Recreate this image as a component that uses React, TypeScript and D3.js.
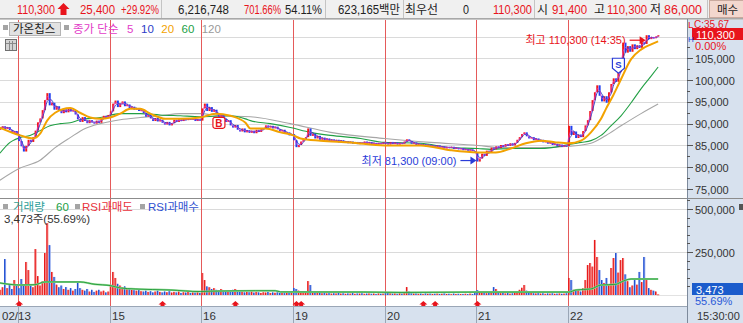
import React from "react";
import * as d3 from "d3";

// ---- data (prices in thousand won, volumes in thousand shares, 10-minute bars) ----
const firstOpen = 88.6;
const close0213 = [89.0, 89.4, 88.8, 89.2, 88.5, 87.9, 88.3, 87.6];
const close0214 = [86.0, 84.8, 83.6, 84.9, 86.3, 85.8, 86.9, 88.4, 90.3, 91.2, 93.1, 95.4, 97.0, 94.2, 94.8, 93.2, 94.0, 93.1, 92.4, 93.3, 92.6, 93.5, 92.8, 93.0, 92.1, 91.0, 90.4, 91.5, 90.6, 90.1, 90.8, 90.3, 90.0, 90.7, 90.2, 91.2, 91.8, 91.3, 92.0];
const close0215 = [92.8, 94.6, 95.3, 93.8, 94.6, 95.1, 94.0, 94.4, 93.6, 93.9, 93.2, 93.6, 92.9, 93.1, 92.4, 91.6, 92.0, 91.2, 90.6, 91.3, 90.5, 90.9, 90.2, 89.8, 90.4, 89.6, 90.1, 90.9, 90.4, 91.0, 90.6, 91.1, 90.8, 91.3, 90.9, 91.2, 90.6, 91.0, 90.7];
const close0216 = [93.5, 94.6, 92.9, 93.8, 92.7, 93.2, 92.2, 91.6, 92.0, 91.1, 90.4, 90.8, 89.6, 89.1, 89.7, 88.6, 88.2, 88.9, 88.0, 88.5, 87.9, 88.4, 87.8, 88.6, 88.1, 88.7, 89.0, 89.6, 89.1, 89.5, 88.9, 89.3, 88.7, 88.2, 88.6, 87.7, 88.0, 87.3, 87.6];
const close0219 = [86.2, 84.6, 85.1, 85.9, 86.4, 86.9, 88.9, 87.2, 87.7, 86.6, 87.2, 86.3, 86.8, 86.1, 86.6, 85.9, 86.4, 85.8, 86.3, 85.7, 86.2, 85.6, 86.0, 85.5, 85.9, 85.4, 85.8, 85.3, 85.7, 85.5, 85.9, 85.4, 85.8, 85.3, 85.6, 85.2, 85.6, 85.3, 85.7];
const close0220 = [85.6, 85.2, 85.8, 85.3, 85.7, 85.2, 85.6, 85.4, 85.9, 86.4, 86.0, 85.4, 85.7, 85.1, 85.4, 84.9, 85.3, 84.8, 85.2, 84.7, 85.0, 84.6, 85.0, 84.5, 84.8, 84.3, 84.7, 84.4, 84.7, 84.2, 84.5, 84.1, 84.4, 83.9, 84.2, 83.8, 84.1, 83.7, 83.4];
const close0221 = [81.3, 82.0, 83.1, 82.6, 83.8, 83.3, 84.5, 84.1, 84.8, 84.4, 85.1, 84.7, 85.3, 84.9, 85.5, 85.0, 85.6, 86.3, 86.9, 87.6, 88.0, 87.1, 86.6, 86.9, 86.2, 86.6, 85.9, 86.3, 85.7, 86.0, 85.4, 85.7, 85.1, 85.4, 84.8, 85.2, 84.7, 85.0, 84.9];
const close0222 = [89.5, 87.4, 88.2, 86.7, 87.5, 86.9, 88.3, 89.6, 90.8, 92.9, 95.4, 97.2, 98.8, 96.4, 95.1, 96.3, 94.8, 97.2, 99.1, 100.4, 99.6, 101.8, 104.5, 108.6, 106.3, 107.8, 106.5, 108.2, 107.1, 108.0, 107.4, 108.7, 108.3, 110.3, 109.4, 109.9, 109.6, 110.0, 110.3];

const vol0213 = [30, 45, 209, 40, 60, 35, 87, 55];
const vol0214 = [40, 93, 55, 192, 145, 60, 45, 267, 110, 55, 80, 244, 418, 290, 134, 105, 60, 45, 55, 35, 46, 30, 40, 25, 35, 70, 40, 30, 25, 35, 20, 30, 18, 25, 30, 20, 25, 15, 20];
const vol0215 = [60, 134, 99, 65, 55, 45, 50, 35, 40, 30, 28, 25, 30, 22, 20, 25, 18, 22, 15, 20, 25, 18, 15, 20, 16, 22, 14, 18, 15, 20, 12, 16, 14, 18, 12, 15, 14, 16, 12];
const vol0216 = [128, 87, 50, 45, 35, 40, 30, 28, 35, 25, 22, 25, 20, 30, 35, 22, 18, 20, 15, 18, 16, 20, 14, 18, 15, 12, 16, 14, 18, 12, 15, 13, 16, 12, 14, 11, 15, 13, 12];
const vol0219 = [41, 35, 25, 20, 18, 15, 81, 58, 20, 15, 12, 14, 10, 12, 9, 11, 8, 10, 9, 12, 8, 10, 7, 9, 8, 11, 7, 9, 8, 10, 7, 8, 9, 7, 8, 6, 9, 7, 8];
const vol0220 = [15, 12, 10, 8, 9, 7, 10, 8, 12, 46, 20, 10, 8, 9, 7, 8, 6, 9, 7, 8, 6, 7, 8, 6, 7, 9, 6, 7, 5, 8, 6, 7, 5, 6, 7, 5, 8, 6, 12];
const vol0221 = [29, 20, 15, 12, 10, 12, 18, 46, 35, 15, 10, 12, 9, 11, 8, 10, 12, 20, 30, 42, 58, 25, 15, 12, 10, 9, 11, 8, 10, 7, 9, 8, 10, 7, 8, 9, 7, 8, 10];
const vol0222 = [99, 87, 30, 25, 35, 20, 40, 87, 174, 186, 165, 320, 221, 145, 87, 70, 99, 60, 157, 215, 244, 130, 203, 215, 120, 80, 45, 55, 87, 60, 134, 75, 221, 87, 40, 30, 25, 20, 3.473];

// moving averages: [bar index, price]
const ma20Pts: [number, number][] = [[-7.7, 89.1], [0.9, 87.3], [6.4, 86.6], [9.4, 87.7], [12.4, 90.7], [15.8, 92.5], [22.2, 93.6], [26.4, 92.5], [30.7, 91.4], [35, 91.1], [39.2, 91.4], [43.5, 92.3], [47.7, 93.4], [52, 93.4], [56.3, 92.3], [62.7, 91.1], [69.1, 91.1], [77.6, 91.4], [84, 92.3], [90.4, 91.8], [96.8, 90.2], [98.9, 88.9], [105.3, 88.9], [111.7, 88.0], [117.2, 87.3], [120.2, 86.6], [128.7, 86.1], [141.5, 85.7], [156, 85.0], [171.4, 85.0], [184.1, 83.9], [195.7, 83.4], [203.3, 83.4], [209.7, 84.3], [216.1, 85.5], [222.5, 86.1], [228.9, 85.7], [234.4, 85.5], [239.6, 86.1], [243.8, 88.0], [248.1, 91.1], [250.2, 93.4], [253.2, 96.4], [256.6, 100.2], [260.9, 104.8], [265.1, 107.0], [269.4, 108.2], [272.4, 108.9]];
const ma60Pts: [number, number][] = [[-7.7, 83.2], [-3.4, 85.7], [0.9, 86.8], [5.1, 87.3], [9.4, 88.4], [13.6, 89.5], [17.9, 90.0], [22.2, 90.2], [26.4, 90.9], [35, 91.4], [43.5, 92.3], [52, 92.3], [60.5, 92.0], [69.1, 91.8], [77.6, 91.6], [90.4, 91.8], [96.8, 91.1], [98.9, 90.7], [107.4, 90.0], [115.9, 89.1], [124.5, 88.0], [133, 87.3], [145.8, 86.6], [156, 85.7], [171.4, 85.5], [184.1, 84.5], [195.7, 84.3], [201.2, 84.1], [209.7, 84.3], [222.5, 84.3], [234.4, 85.2], [239.6, 85.7], [243.8, 86.1], [248.1, 87.3], [252.3, 89.5], [256.6, 91.8], [260.9, 94.8], [265.1, 98.0], [269.4, 100.9], [272.4, 103.0]];
const ma120Pts: [number, number][] = [[-7.7, 77.0], [0.9, 79.8], [9.4, 81.6], [15.8, 84.5], [22.2, 86.8], [28.6, 88.9], [35, 90.0], [43.5, 90.9], [52, 91.4], [60.5, 91.8], [69.1, 92.3], [77.6, 92.3], [86.1, 91.8], [98.9, 91.6], [115.9, 90.0], [133, 88.0], [156, 86.6], [175.6, 85.7], [195.7, 85.0], [205.5, 84.5], [222.5, 84.5], [234.4, 84.8], [243.8, 85.5], [250.2, 87.3], [256.6, 89.5], [265.1, 92.3], [272.4, 94.5]];
const volMaPts: [number, number][] = [[-7.7, 70], [0.9, 58], [7.2, 60], [11.5, 76], [26.4, 76], [32.8, 62], [39.2, 55], [43.5, 41], [49.9, 35], [64.8, 29], [77.6, 20], [81.8, 22], [101, 25], [109.5, 25], [111.7, 18], [147, 17], [163, 15], [197, 17], [234.4, 17], [237.4, 29], [243.8, 35], [248, 58], [254.5, 62], [255.8, 70], [260.9, 93], [272.4, 93]];

const dayStarts = [0, 39, 78, 117, 156, 195, 234];
const dayLabels = ["02/13", "15", "16", "19", "20", "21", "22"];
const priceTicks = [75, 80, 85, 90, 95, 100, 105, 110];
const volTicks = [250, 500];
const buySignals = [{ bar: 85, price: 90.2 }];
const sellSignals = [{ bar: 255, price: 103.4 }];
const eventBars = [0, 61, 92, 118, 120, 172, 177, 195];
const maLegend = [
  { label: "5", color: "#e23cc8" },
  { label: "10", color: "#2a3cc8" },
  { label: "20", color: "#f2a200" },
  { label: "60", color: "#22a045" },
  { label: "120", color: "#9a9a9a" },
];

const W = 743;
const H = 323;
const FONT = "'Liberation Sans','Noto Sans CJK KR',sans-serif";
const RED = "#e8141c";
const DARK = "#222";

function rolling(arr: number[], n: number) {
  return arr.map((_, i) => d3.mean(arr.slice(Math.max(0, i - n + 1), i + 1)) as number);
}
const fmt = (v: number) => d3.format(",")(Math.round(v * 1000));

export default function App() {
  const closes = [...close0213, ...close0214, ...close0215, ...close0216, ...close0219, ...close0220, ...close0221, ...close0222];
  const vols = [...vol0213, ...vol0214, ...vol0215, ...vol0216, ...vol0219, ...vol0220, ...vol0221, ...vol0222];
  const first = -close0213.length;
  const bars = closes.map((c, j) => ({ i: j + first, o: j === 0 ? firstOpen : closes[j - 1], c, v: vols[j] }));

  const x = d3.scaleLinear().domain([0, 273]).range([18, 18 + 273 * 2.35]);
  const yP = d3.scaleLinear().domain([75, 105]).range([189, 58.3]);
  const yV = d3.scaleLinear().domain([0, 500]).range([295, 209]);

  const lineP = d3.line<[number, number]>().x(d => x(d[0])).y(d => yP(d[1])).curve(d3.curveMonotoneX);
  const lineV = d3.line<[number, number]>().x(d => x(d[0])).y(d => yV(d[1])).curve(d3.curveMonotoneX);
  const ma5 = rolling(closes, 2).map((v, j) => [bars[j].i + 0.5, v] as [number, number]);
  const ma10 = rolling(closes, 3).map((v, j) => [bars[j].i + 0.5, v] as [number, number]);

  const hiIdx = d3.maxIndex(closes);
  const loIdx = d3.minIndex(closes);
  const hiBar = bars[hiIdx];
  const loBar = bars[loIdx];

  const PX1 = 687; // plot right edge
  const minorP = d3.range(72.5, 110, 2.5);
  const minorV = d3.range(50, 550, 50);

  let lx = 127;
  const legendPos = maLegend.map(m => {
    const p = lx;
    lx += m.label.length * 6.1 + 8;
    return p;
  });

  const hdr = [
    { t: "110,300", x: 17, w: 38, c: RED },
    { t: "25,400", x: 80, w: 35, c: RED },
    { t: "+29.92%", x: 121, w: 38, c: RED },
    { t: "6,216,748", x: 178, w: 51, c: DARK },
    { t: "701.66%", x: 244, w: 37, c: RED },
    { t: "54.11%", x: 285, w: 37, c: DARK },
    { t: "623,165백만", x: 338, w: 62, c: DARK },
    { t: "최우선", x: 405, w: 33, c: DARK },
    { t: "0", x: 463, w: 6, c: DARK },
    { t: "110,300", x: 493, w: 39, c: RED },
    { t: "시", x: 537, w: 11, c: DARK },
    { t: "91,400", x: 552, w: 35, c: RED },
    { t: "고", x: 594, w: 11, c: DARK },
    { t: "110,300", x: 607, w: 40, c: RED },
    { t: "저", x: 650, w: 11, c: DARK },
    { t: "86,000", x: 664, w: 38, c: RED },
  ];

  return (
    <div style={{ position: "fixed", left: 0, top: 0 }}>
      <svg width={W} height={H} style={{ display: "block", fontFamily: FONT }}>
        <defs>
          <clipPath id="pp"><rect x={0} y={20} width={PX1} height={178} /></clipPath>
          <clipPath id="vp"><rect x={0} y={199} width={PX1} height={107} /></clipPath>
        </defs>
        <rect x={0} y={0} width={W} height={H} fill="#fff" />
        {/* header */}
        <rect x={0} y={0} width={W} height={18} fill="#f0f0f0" />
        <line x1={0} x2={W} y1={18.5} y2={18.5} stroke="#a8a8a8" />
        {[161, 325, 403, 534, 707].map(s => (
          <line key={s} x1={s + 0.5} x2={s + 0.5} y1={0} y2={18} stroke="#c4c4c4" />
        ))}
        {hdr.map((h, k) => (
          <text key={k} x={h.x} y={13.5} fontSize={12} fill={h.c} textLength={h.w} lengthAdjust="spacingAndGlyphs">{h.t}</text>
        ))}
        <polygon points="63.5,3 69.5,9 66.5,9 66.5,15 60.5,15 60.5,9 57.5,9" fill={RED} />
        <rect x={709.5} y={0.5} width={34} height={17} fill="#f3d7ce" stroke="#c9a99e" />
        <text x={717} y={13.5} fontSize={11.5} fill={DARK}>매수</text>

        {/* right axis panel & bottom band */}
        <rect x={PX1} y={19} width={W - PX1} height={H - 19} fill="#d7e1ee" />
        <rect x={0} y={306} width={PX1} height={H - 306} fill="#d7e1ee" />
        <line x1={0} x2={W} y1={19.5} y2={19.5} stroke="#c8c8c8" />

        {/* grids */}
        {priceTicks.map(t => (
          <line key={t} x1={0} x2={PX1} y1={Math.round(yP(t)) + 0.5} y2={Math.round(yP(t)) + 0.5} stroke="#dadada" />
        ))}
        {volTicks.map(t => (
          <line key={t} x1={0} x2={PX1} y1={Math.round(yV(t)) + 0.5} y2={Math.round(yV(t)) + 0.5} stroke="#dadada" />
        ))}
        <line x1={0} x2={PX1} y1={Math.round(yV(0)) + 0.5} y2={Math.round(yV(0)) + 0.5} stroke="#e2e2e2" />

        {/* day lines */}
        {dayStarts.map(b => (
          <g key={b}>
            <line x1={Math.round(x(b)) + 0.5} x2={Math.round(x(b)) + 0.5} y1={20} y2={306} stroke="#e55a5a" />
            <line x1={Math.round(x(b)) + 0.5} x2={Math.round(x(b)) + 0.5} y1={307} y2={H} stroke="#9aa6b6" />
          </g>
        ))}

        {/* price pane */}
        <g clipPath="url(#pp)">
          <path d={lineP(ma120Pts) || ""} fill="none" stroke="#a6a6a6" strokeWidth={1.1} />
          <path d={lineP(ma60Pts) || ""} fill="none" stroke="#22a045" strokeWidth={1.1} />
          {bars.map(b => {
            const up = b.c >= b.o;
            const y1 = yP(Math.max(b.o, b.c));
            const y2 = yP(Math.min(b.o, b.c));
            return (
              <rect key={b.i} x={x(b.i + 0.5) - 1} y={y1} width={2} height={Math.max(1, y2 - y1)}
                fill={up ? "#f21818" : "#1f3ff0"} />
            );
          })}
          <path d={lineP(ma10) || ""} fill="none" stroke="#2a3cc8" strokeWidth={0.9} />
          <path d={lineP(ma5) || ""} fill="none" stroke="#e23cc8" strokeWidth={0.9} opacity={0.85} />
          <path d={lineP(ma20Pts) || ""} fill="none" stroke="#f2a200" strokeWidth={2} />
          {buySignals.map((s, k) => (
            <g key={k} transform={`translate(${x(s.bar + 0.5)},${yP(s.price)})`}>
              <rect x={-6} y={-5.5} width={12} height={11} rx={2} fill="#fff" stroke={RED} strokeWidth={1.2} />
              <text x={0} y={4} textAnchor="middle" fontSize={10} fontWeight="bold" fill={RED}>B</text>
            </g>
          ))}
          {sellSignals.map((s, k) => (
            <g key={k} transform={`translate(${x(s.bar + 0.5)},${yP(s.price)})`}>
              <path d="M-6,-7 L6,-7 L6,3 L0,8 L-6,3 Z" fill="#fff" stroke="#2a3cd8" strokeWidth={1.2} />
              <text x={0} y={2.5} textAnchor="middle" fontSize={9.5} fontWeight="bold" fill="#2a3cd8">S</text>
            </g>
          ))}
        </g>

        {/* high / low annotations */}
        {(() => {
          const tx = x(hiBar.i + 0.5) - 1;
          const ty = yP(hiBar.c) + 5;
          return (
            <g>
              <line x1={tx - 16} x2={tx - 5} y1={ty} y2={ty} stroke={RED} strokeWidth={1.2} />
              <polygon points={`${tx},${ty} ${tx - 6},${ty - 4} ${tx - 6},${ty + 4}`} fill={RED} />
              <text x={tx - 20} y={ty + 4} textAnchor="end" fontSize={11} fill={RED}>
                {`최고 ${fmt(hiBar.c)} (14:35)`}
              </text>
            </g>
          );
        })()}
        {(() => {
          const tx = x(loBar.i + 0.5) - 1;
          const ty = yP(loBar.c) - 1;
          return (
            <g>
              <line x1={tx - 16} x2={tx - 5} y1={ty} y2={ty} stroke="#2a3cd8" strokeWidth={1.2} />
              <polygon points={`${tx},${ty} ${tx - 6},${ty - 4} ${tx - 6},${ty + 4}`} fill="#2a3cd8" />
              <text x={tx - 20} y={ty + 4} textAnchor="end" fontSize={11} fill="#2a3cd8">
                {`최저 ${fmt(loBar.c)} (09:00)`}
              </text>
            </g>
          );
        })()}

        {/* legend row */}
        <rect x={3} y={25} width={5} height={5} fill="#a4a4a4" />
        <rect x={9.5} y={22.5} width={51} height={13} fill="#e2e2e2" stroke="#b4b4b4" />
        <text x={13} y={33} fontSize={11.5} fill={DARK}>가온칩스</text>
        <rect x={64} y={25} width={5} height={5} fill="#a4a4a4" />
        <text x={73} y={33} fontSize={11.5} fill="#e23cc8">종가 단순</text>
        {maLegend.map((m, k) => (
          <text key={m.label} x={legendPos[k]} y={33} fontSize={11.5} fill={m.color}>{m.label}</text>
        ))}
        <rect x={5.5} y={39.5} width={11} height={11} fill="#d4d4d4" stroke="#707070" />
        <line x1={9.5} x2={9.5} y1={41} y2={50} stroke="#8a8a8a" />
        <line x1={12.5} x2={12.5} y1={41} y2={50} stroke="#8a8a8a" />
        <line x1={6} x2={16} y1={43.5} y2={43.5} stroke="#8a8a8a" />

        {/* pane separator */}
        <line x1={0} x2={W} y1={198.5} y2={198.5} stroke="#8c8c8c" />

        {/* volume pane */}
        <g clipPath="url(#vp)">
          {bars.map(b => {
            const up = b.c >= b.o;
            const y1 = yV(b.v);
            const h = Math.max(0.8, yV(0) - y1);
            return (
              <g key={b.i}>
                <rect x={x(b.i + 0.5) - 1} y={y1} width={2} height={h} fill={up ? "#f48a8a" : "#8ea6ee"} />
                <rect x={x(b.i + 0.5) - 1} y={y1} width={1.1} height={h} fill={up ? "#e81818" : "#1f4fd0"} />
              </g>
            );
          })}
          <path d={lineV(volMaPts) || ""} fill="none" stroke="#8ed88e" strokeWidth={2} />
          <path d={lineV(volMaPts) || ""} fill="none" stroke="#1f9a3a" strokeWidth={0.9} />
          {eventBars.map(e => (
            <polygon key={e}
              transform={`translate(${x(e + 0.5)},301)`}
              points="0,0 4,3.5 2,3.5 2,6 -2,6 -2,3.5 -4,3.5" fill={RED} />
          ))}
        </g>

        {/* volume legend */}
        <rect x={3} y={204} width={5} height={5} fill="#a4a4a4" />
        <text x={13} y={211} fontSize={11.5} fill="#2f9f9a">거래량</text>
        <text x={56} y={211} fontSize={11.5} fill="#22a045">60</text>
        <rect x={75} y={204} width={5} height={5} fill="#a4a4a4" />
        <text x={82} y={211} fontSize={11.5} fill="#e8323c">RSI과매도</text>
        <rect x={140} y={204} width={5} height={5} fill="#a4a4a4" />
        <text x={148} y={211} fontSize={11.5} fill="#2f4fd0">RSI과매수</text>
        <text x={4} y={223} fontSize={11.5} fill="#333">3,473주(55.69%)</text>

        {/* bottom band */}
        <line x1={0} x2={PX1} y1={306.5} y2={306.5} stroke="#9aa6b6" />
        {dayLabels.map((l, k) => (
          <text key={l} x={k === 0 ? 2 : Math.round(x(dayStarts[k])) + 2} y={320} fontSize={11.5} fill="#333">{l}</text>
        ))}

        {/* right axis */}
        <line x1={PX1 + 0.5} x2={PX1 + 0.5} y1={19} y2={H} stroke="#7d8a9c" />
        {minorP.map(t => (
          <line key={t} x1={PX1} x2={PX1 + 3} y1={Math.round(yP(t)) + 0.5} y2={Math.round(yP(t)) + 0.5} stroke="#555" />
        ))}
        {priceTicks.filter(t => t <= 105).map(t => (
          <g key={t}>
            <line x1={PX1} x2={PX1 + 6} y1={Math.round(yP(t)) + 0.5} y2={Math.round(yP(t)) + 0.5} stroke="#555" />
            <text x={695} y={yP(t) + 4.5} fontSize={11} fill="#333">{fmt(t)}</text>
          </g>
        ))}
        {minorV.map(t => (
          <line key={t} x1={PX1} x2={PX1 + 3} y1={Math.round(yV(t)) + 0.5} y2={Math.round(yV(t)) + 0.5} stroke="#555" />
        ))}
        {volTicks.map(t => (
          <g key={t}>
            <line x1={PX1} x2={PX1 + 6} y1={Math.round(yV(t)) + 0.5} y2={Math.round(yV(t)) + 0.5} stroke="#555" />
            <text x={695} y={yV(t) + 4.5} fontSize={11} fill="#333">{fmt(t)}</text>
          </g>
        ))}
        <text x={688} y={28} fontSize={9.5} fill={RED}>L</text>
        <text x={694} y={28} fontSize={10} fill={RED}>C:35.67</text>
        <rect x={692} y={28} width={51} height={12} fill={RED} />
        <text x={688} y={42} fontSize={8} fill="#2a3cd8">H</text>
        <text x={696} y={38.5} fontSize={11} fill="#fff">{fmt(closes[closes.length - 1])}</text>
        <text x={695} y={50} fontSize={11} fill={RED}>0.00%</text>
        <rect x={739} y={204} width={4} height={6} fill="#555" />
        <rect x={692} y={283} width={51} height={12} fill="#1b5ccc" />
        <text x={696} y={293.5} fontSize={11} fill="#fff">3,473</text>
        <text x={695} y={305} fontSize={11} fill="#2a5ad8">55.69%</text>
        <text x={697} y={320} fontSize={11} fill="#333">15:30:00</text>
      </svg>
    </div>
  );
}
